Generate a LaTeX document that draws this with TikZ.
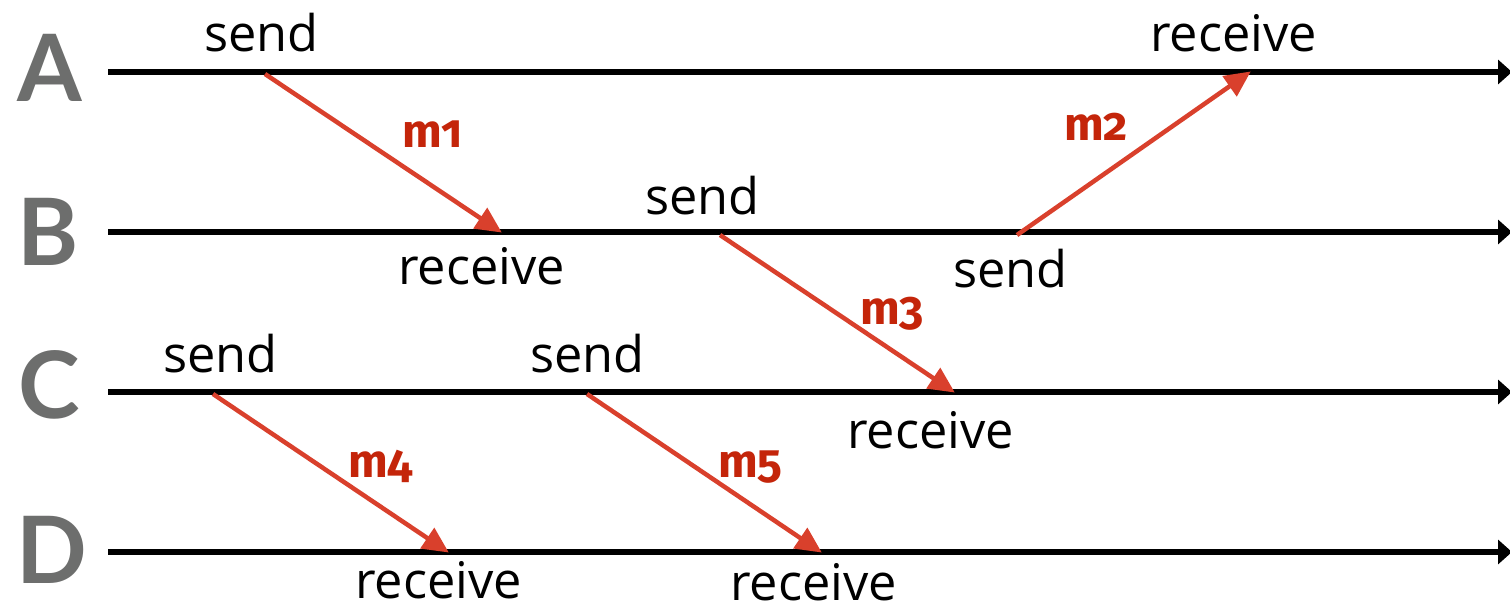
\documentclass[tikz,border=0pt]{standalone}
\usepackage{fontspec}
\setmainfont{Open Sans}
\newfontfamily\procfont{Lato}
\newfontfamily\msgfont[Numbers=OldStyle]{Fira Sans}
\usetikzlibrary{arrows.meta}
\definecolor{procgray}{HTML}{6D6E6D}
\definecolor{msgred}{HTML}{D9402C}
\definecolor{labred}{HTML}{C4250A}
\tikzset{
  timeline/.style={line width=5.5pt, -{Triangle[length=14pt,width=24pt]}},
  msg/.style={line width=4.5pt, msgred, -{Triangle[length=26pt,width=24pt]}, shorten >=-1pt},
  proc/.style={inner sep=0pt, anchor=base, text=procgray, font=\procfont\bfseries\fontsize{93}{93}\selectfont},
  evt/.style={inner sep=0pt, anchor=base west, text depth=0pt, font=\fontsize{50.5}{50.5}\selectfont},
  mlab/.style={inner sep=0pt, anchor=base west, text=labred, font=\msgfont\bfseries\fontsize{47}{47}\selectfont}
}
\begin{document}
\begin{tikzpicture}[x=1pt,y=-1pt]
\useasboundingbox (0,0) rectangle (1510,612);
% process names
\node[proc] (pA) at (50,102) {A};
\node[proc] (pB) at (48,266) {B};
\node[proc] (pC) at (49,418) {C};
\node[proc] (pD) at (52,583) {D};
% timelines
\coordinate (A0) at (108,72);  \coordinate (A1) at (1512,72);
\coordinate (B0) at (108,232); \coordinate (B1) at (1512,232);
\coordinate (C0) at (108,392); \coordinate (C1) at (1512,392);
\coordinate (D0) at (108,552); \coordinate (D1) at (1512,552);
\draw[timeline] (A0) -- (A1);
\draw[timeline] (B0) -- (B1);
\draw[timeline] (C0) -- (C1);
\draw[timeline] (D0) -- (D1);
% events
\coordinate (s1) at (265,74);  \coordinate (r1) at (501,232);
\coordinate (s2) at (1017,235);\coordinate (r2) at (1250,72);
\coordinate (s3) at (720,235); \coordinate (r3) at (954,392);
\coordinate (s4) at (213,394); \coordinate (r4) at (448,552);
\coordinate (s5) at (587,394); \coordinate (r5) at (821,552);
\draw[msg] (s1) -- (r1);
\draw[msg] (s2) -- (r2);
\draw[msg] (s3) -- (r3);
\draw[msg] (s4) -- (r4);
\draw[msg] (s5) -- (r5);
% message labels
\node[mlab] (m1) at (402,148) {m1};
\node[mlab] (m2) at (1064,141) {m2};
\node[mlab] (m3) at (860,324) {m3};
\node[mlab] (m4) at (348,477) {m4};
\node[mlab] (m5) at (718,477) {m5};
% event labels
\node[evt] (t1) at (204,52) {send};
\node[evt] (t2) at (1150,52) {receive};
\node[evt] (t3) at (645,215) {send};
\node[evt] (t4) at (398,285) {receive};
\node[evt] (t5) at (953,288) {send};
\node[evt] (t6) at (163,372) {send};
\node[evt] (t7) at (530,372) {send};
\node[evt] (t8) at (847,448) {receive};
\node[evt] (t9) at (355,598) {receive};
\node[evt] (t10) at (730,600) {receive};
\end{tikzpicture}
\end{document}
